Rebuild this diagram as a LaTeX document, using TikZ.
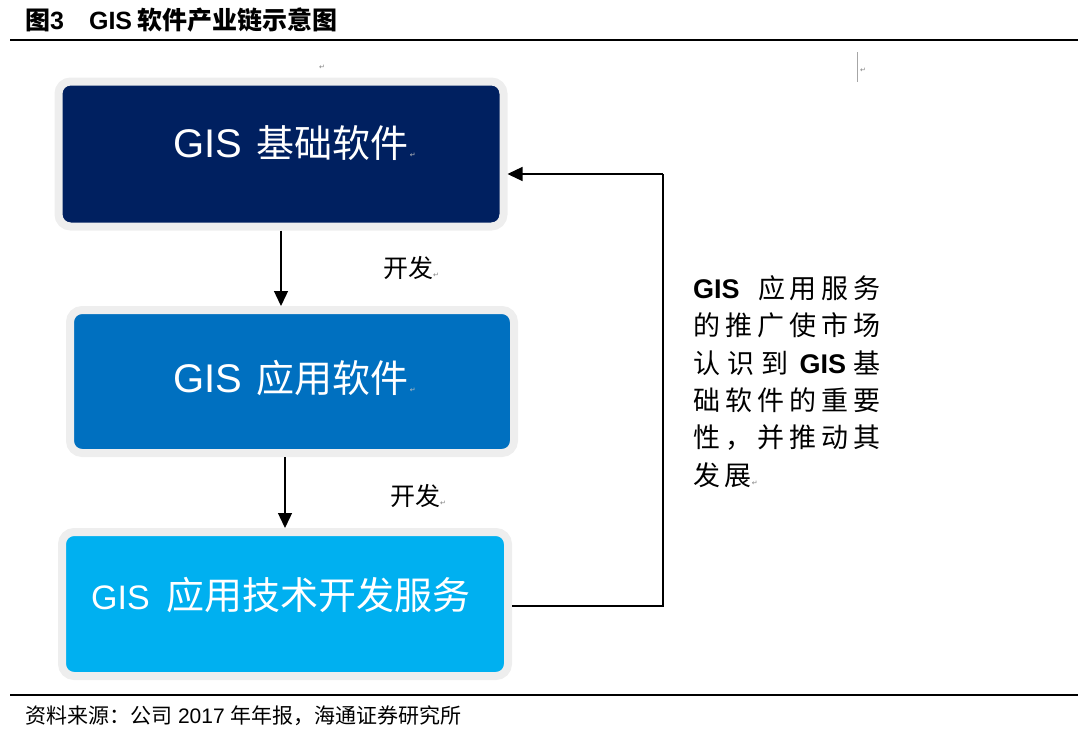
\documentclass[tikz,border=0pt]{standalone}
\usepackage{fontspec}
\setmainfont{Noto Sans CJK SC}
\newfontfamily\lat{Liberation Sans}
\newfontfamily\symf{DejaVu Sans}
\usetikzlibrary{arrows.meta}
\definecolor{navy}{HTML}{002060}
\definecolor{midblue}{HTML}{0070C0}
\definecolor{skyblue}{HTML}{00B0F0}
\definecolor{halo}{HTML}{EEEEEE}
\newcommand{\fs}[1]{\fontsize{#1}{#1}\selectfont}
\newcommand{\pmark}[1][gray]{{\symf\fs{7}\textcolor{#1}{↵}}}
\begin{document}
\begin{tikzpicture}[x=1pt,y=-1pt,
  box/.style={draw=halo, line width=8pt, rounded corners=12pt, outer sep=4pt, inner sep=0pt},
  boxtext/.style={text=white, inner sep=0pt},
  arr/.style={line width=1.3pt, -{Triangle[width=14pt,length=15pt]}},
  lab/.style={anchor=west, inner sep=0pt, font=\fs{25}},
  side/.style={anchor=west, inner sep=0pt, font=\fs{27}},
  rule/.style={line width=1.5pt, black},
]
\useasboundingbox (0,0) rectangle (1080,732);

% title and rules
\node[anchor=west, inner sep=0pt, font=\fs{25}\bfseries] (title) at (25,20)
  {图{\lat 3}\hspace{25pt}{\lat GIS} 软件产业链示意图};
\coordinate (r1a) at (10,40);
\coordinate (r1b) at (1078,40);
\draw[rule] (r1a) -- (r1b);
\coordinate (r2a) at (10,695);
\coordinate (r2b) at (1078,695);
\draw[rule] (r2a) -- (r2b);
\node[anchor=west, inner sep=0pt, font=\fs{21}] (foot) at (25,716)
  {资料来源：公司{\lat\ 2017\ }年年报，海通证券研究所};

% stray paragraph marks
\node[inner sep=0pt] (m1) at (322,67) {\pmark};
\node[inner sep=0pt] (m2) at (863,70) {\pmark};
\coordinate (cur1) at (857,52);
\coordinate (cur2) at (857,82);
\draw[gray!70, line width=0.8pt] (cur1) -- (cur2);

% boxes
\node[box, fill=navy, minimum width=445pt, minimum height=145pt] (b1) at (281,154) {};
\node[box, fill=midblue, minimum width=444pt, minimum height=143pt] (b2) at (292,381.5) {};
\node[box, fill=skyblue, minimum width=446pt, minimum height=144pt] (b3) at (285,604) {};

\node[boxtext, anchor=west] (t1) at (173,143)
  {{\lat\fs{40}GIS}\hspace{14pt}{\fs{38}基础软件}\,\pmark[gray!50]};
\node[boxtext, anchor=west] (t2) at (173,378)
  {{\lat\fs{40}GIS}\hspace{14pt}{\fs{38}应用软件}\,\pmark[gray!50]};
\node[boxtext, anchor=west] (t3) at (91,595)
  {{\lat\fs{34}GIS}\hspace{17pt}{\fs{38}应用技术开发服务}};

% arrows down
\draw[arr] (b1.south) -- (b1.south |- b2.north);
\node[lab] (l1) at (383,268) {开发\pmark};
\draw[arr] (b2.south -| b3.north) -- (b3.north);
\node[lab] (l2) at (390,496) {开发\pmark};

% feedback loop
\coordinate (c1) at (663,606);
\coordinate (c2) at (663,174);
\draw[line width=1.3pt] (b3.east |- c1) -- (c1) -- (c2);
\draw[arr] (c2) -- (b1.east |- c2);

% side text
\node[side] (s1) at (693,288) {\makebox[187pt][s]{{\lat\bfseries GIS}\hspace{14pt}\hfill 应\hfill 用\hfill 服\hfill 务}};
\node[side] (s2) at (693,325.5) {\makebox[187pt][s]{的\hfill 推\hfill 广\hfill 使\hfill 市\hfill 场}};
\node[side] (s3) at (693,363) {\makebox[187pt][s]{认\hfill 识\hfill 到\hspace{4pt}\hfill {\lat\bfseries GIS}\hfill 基}};
\node[side] (s4) at (693,400.5) {\makebox[187pt][s]{础\hfill 软\hfill 件\hfill 的\hfill 重\hfill 要}};
\node[side] (s5) at (693,438) {\makebox[187pt][s]{性\hfill ，\hfill 并\hfill 推\hfill 动\hfill 其}};
\node[side] (s6) at (693,475.5) {发\hspace{4.6pt}展\pmark};
\end{tikzpicture}
\end{document}
